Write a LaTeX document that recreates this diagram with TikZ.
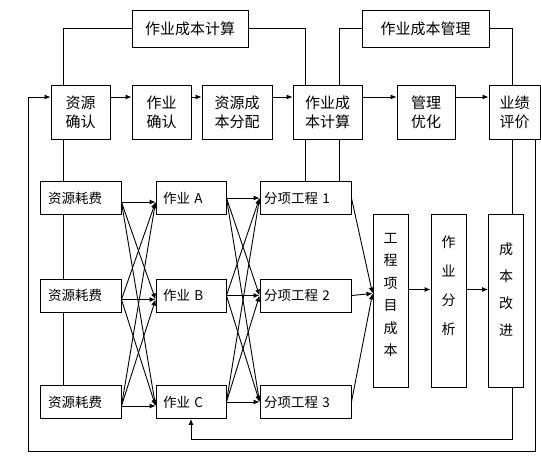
\documentclass[tikz,border=0pt]{standalone}
\usepackage{fontspec}
\setmainfont{Noto Sans CJK SC}
\usepackage{tikz}
\usetikzlibrary{arrows.meta,positioning,calc}
\tikzstyle{block} = [rectangle, draw=black, line width=0.9pt, fill=white, align=center, inner sep=2pt]
\tikzstyle{topblock} = [block, minimum height=37pt, font=\fontsize{15}{19}\selectfont]
\tikzstyle{stageblock} = [block, minimum height=54pt, font=\fontsize{15}{19}\selectfont]
\tikzstyle{tallblock} = [block, minimum width=35pt, minimum height=173pt]
\tikzstyle{arrow} = [line width=0.9pt, -{Latex[length=6pt,width=5pt]}]
\tikzstyle{line} = [line width=0.9pt]
\tikzset{itemblock/.style={block, minimum height=33pt, align=left, text width=#1, font=\fontsize{13.5}{16}\selectfont}}

\begin{document}
\begin{tikzpicture}[x=1pt, y=-1pt]
    \useasboundingbox (0,0) rectangle (541,456);
    % upper stages
    \node[topblock, minimum width=116pt] (calcTop) at (190,28.5) {作业成本计算};
    \node[topblock, minimum width=127pt] (mgmtTop) at (425.5,28.5) {作业成本管理};
    \node[stageblock, minimum width=59pt] (resConf) at (80.5,112) {资源\\确认};
    \node[stageblock, minimum width=59pt] (actConf) at (161.5,112) {作业\\确认};
    \node[stageblock, minimum width=70pt] (resAlloc) at (237,112) {资源成\\本分配};
    \node[stageblock, minimum width=69pt] (actCost) at (327.5,112) {作业成\\本计算};
    \node[stageblock, minimum width=58pt] (optim) at (426,112) {管理\\优化};
    \node[stageblock, minimum width=51pt] (perf) at (514.5,112) {业绩\\评价};

    % lower rows
    \foreach \i/\y/\l in {1/198/A, 2/295.5/B, 3/402/C} {
        \node[itemblock=65pt, inner xsep=8pt] (res\i) at (80.5,\y) {资源耗费};
        \node[itemblock=56pt, inner xsep=7pt] (act\i) at (191,\y) {作业 \l};
        \node[itemblock=83pt, inner xsep=4pt] (sub\i) at (305.5,\y) {分项工程 \i};
    }
    \node[tallblock, text depth=12pt, font=\fontsize{14}{22.4}\selectfont] (projCost) at (390.5,300.5) {工\\程\\项\\目\\成\\本};
    \node[tallblock, text depth=31pt, font=\fontsize{14}{29}\selectfont] (actAna) at (448.5,300.5) {作\\业\\分\\析};
    \node[tallblock, text depth=23pt, font=\fontsize{14}{27}\selectfont] (costImp) at (506,300.5) {成\\本\\改\\进};

    % upper connectors
    \draw[line] ([xshift=-17.5pt]resConf.north) |- (calcTop.west);
    \draw[line] (calcTop.east) -| ([xshift=-22.5pt]actCost.north);
    \draw[line] ([xshift=11.5pt]actCost.north) |- (mgmtTop.west);
    \draw[line] (mgmtTop.east) -| ([xshift=-2.5pt]perf.north);
    \draw[arrow] ([yshift=15pt]resConf.east) -- ([yshift=15pt]actConf.west);
    \draw[arrow] ([yshift=15pt]actConf.east) -- ([yshift=15pt]resAlloc.west);
    \draw[arrow] ([yshift=15pt]resAlloc.east) -- ([yshift=15pt]actCost.west);
    \draw[arrow] ([yshift=15pt]actCost.east) -- ([yshift=15pt]optim.west);
    \draw[arrow] ([yshift=15pt]optim.east) -- ([yshift=15pt]perf.west);

    % vertical ties
    \draw[line] ([xshift=-17.5pt]resConf.south) -- ([xshift=-17.5pt]res1.north);
    \draw[line] ([xshift=-17.5pt]res1.south) -- ([xshift=-17.5pt]res2.north);
    \draw[line] ([xshift=-17.5pt]res2.south) -- ([xshift=-17.5pt]res3.north);
    \coordinate (tapL) at ([xshift=-22.5pt]actCost.south);
    \coordinate (tapR) at ([xshift=11.5pt]actCost.south);
    \coordinate (tapP) at ([xshift=-2.5pt]perf.south);
    \draw[line] (tapL) -- (tapL |- sub1.north);
    \draw[line] (tapR) -- (tapR |- sub1.north);
    \draw[line] (tapP) -- (tapP |- costImp.north);

    % cross links
    \foreach \i in {1,2,3} {
        \foreach \j in {1,2,3} {
            \draw[arrow] ([yshift=-4pt]res\i.east) -- ([yshift=-4pt]act\j.west);
            \draw[arrow] (act\i.east) -- (sub\j.west);
        }
        \draw[arrow] (sub\i.east) -- ([yshift=7pt]projCost.west);
    }
    \draw[arrow] ([yshift=11pt]projCost.east) -- ([yshift=11pt]actAna.west);
    \draw[arrow] ([yshift=11pt]actAna.east) -- ([yshift=11pt]costImp.west);

    % feedback loops
    \coordinate (loopOut) at (28,451);
    \coordinate (loopIn) at (191,439);
    \draw[arrow] ([xshift=20.5pt]perf.south) |- (loopOut) |- ([yshift=15pt]resConf.west);
    \draw[arrow] ([xshift=6pt]costImp.south) |- (loopIn) -- (act3.south);
\end{tikzpicture}
\end{document}
